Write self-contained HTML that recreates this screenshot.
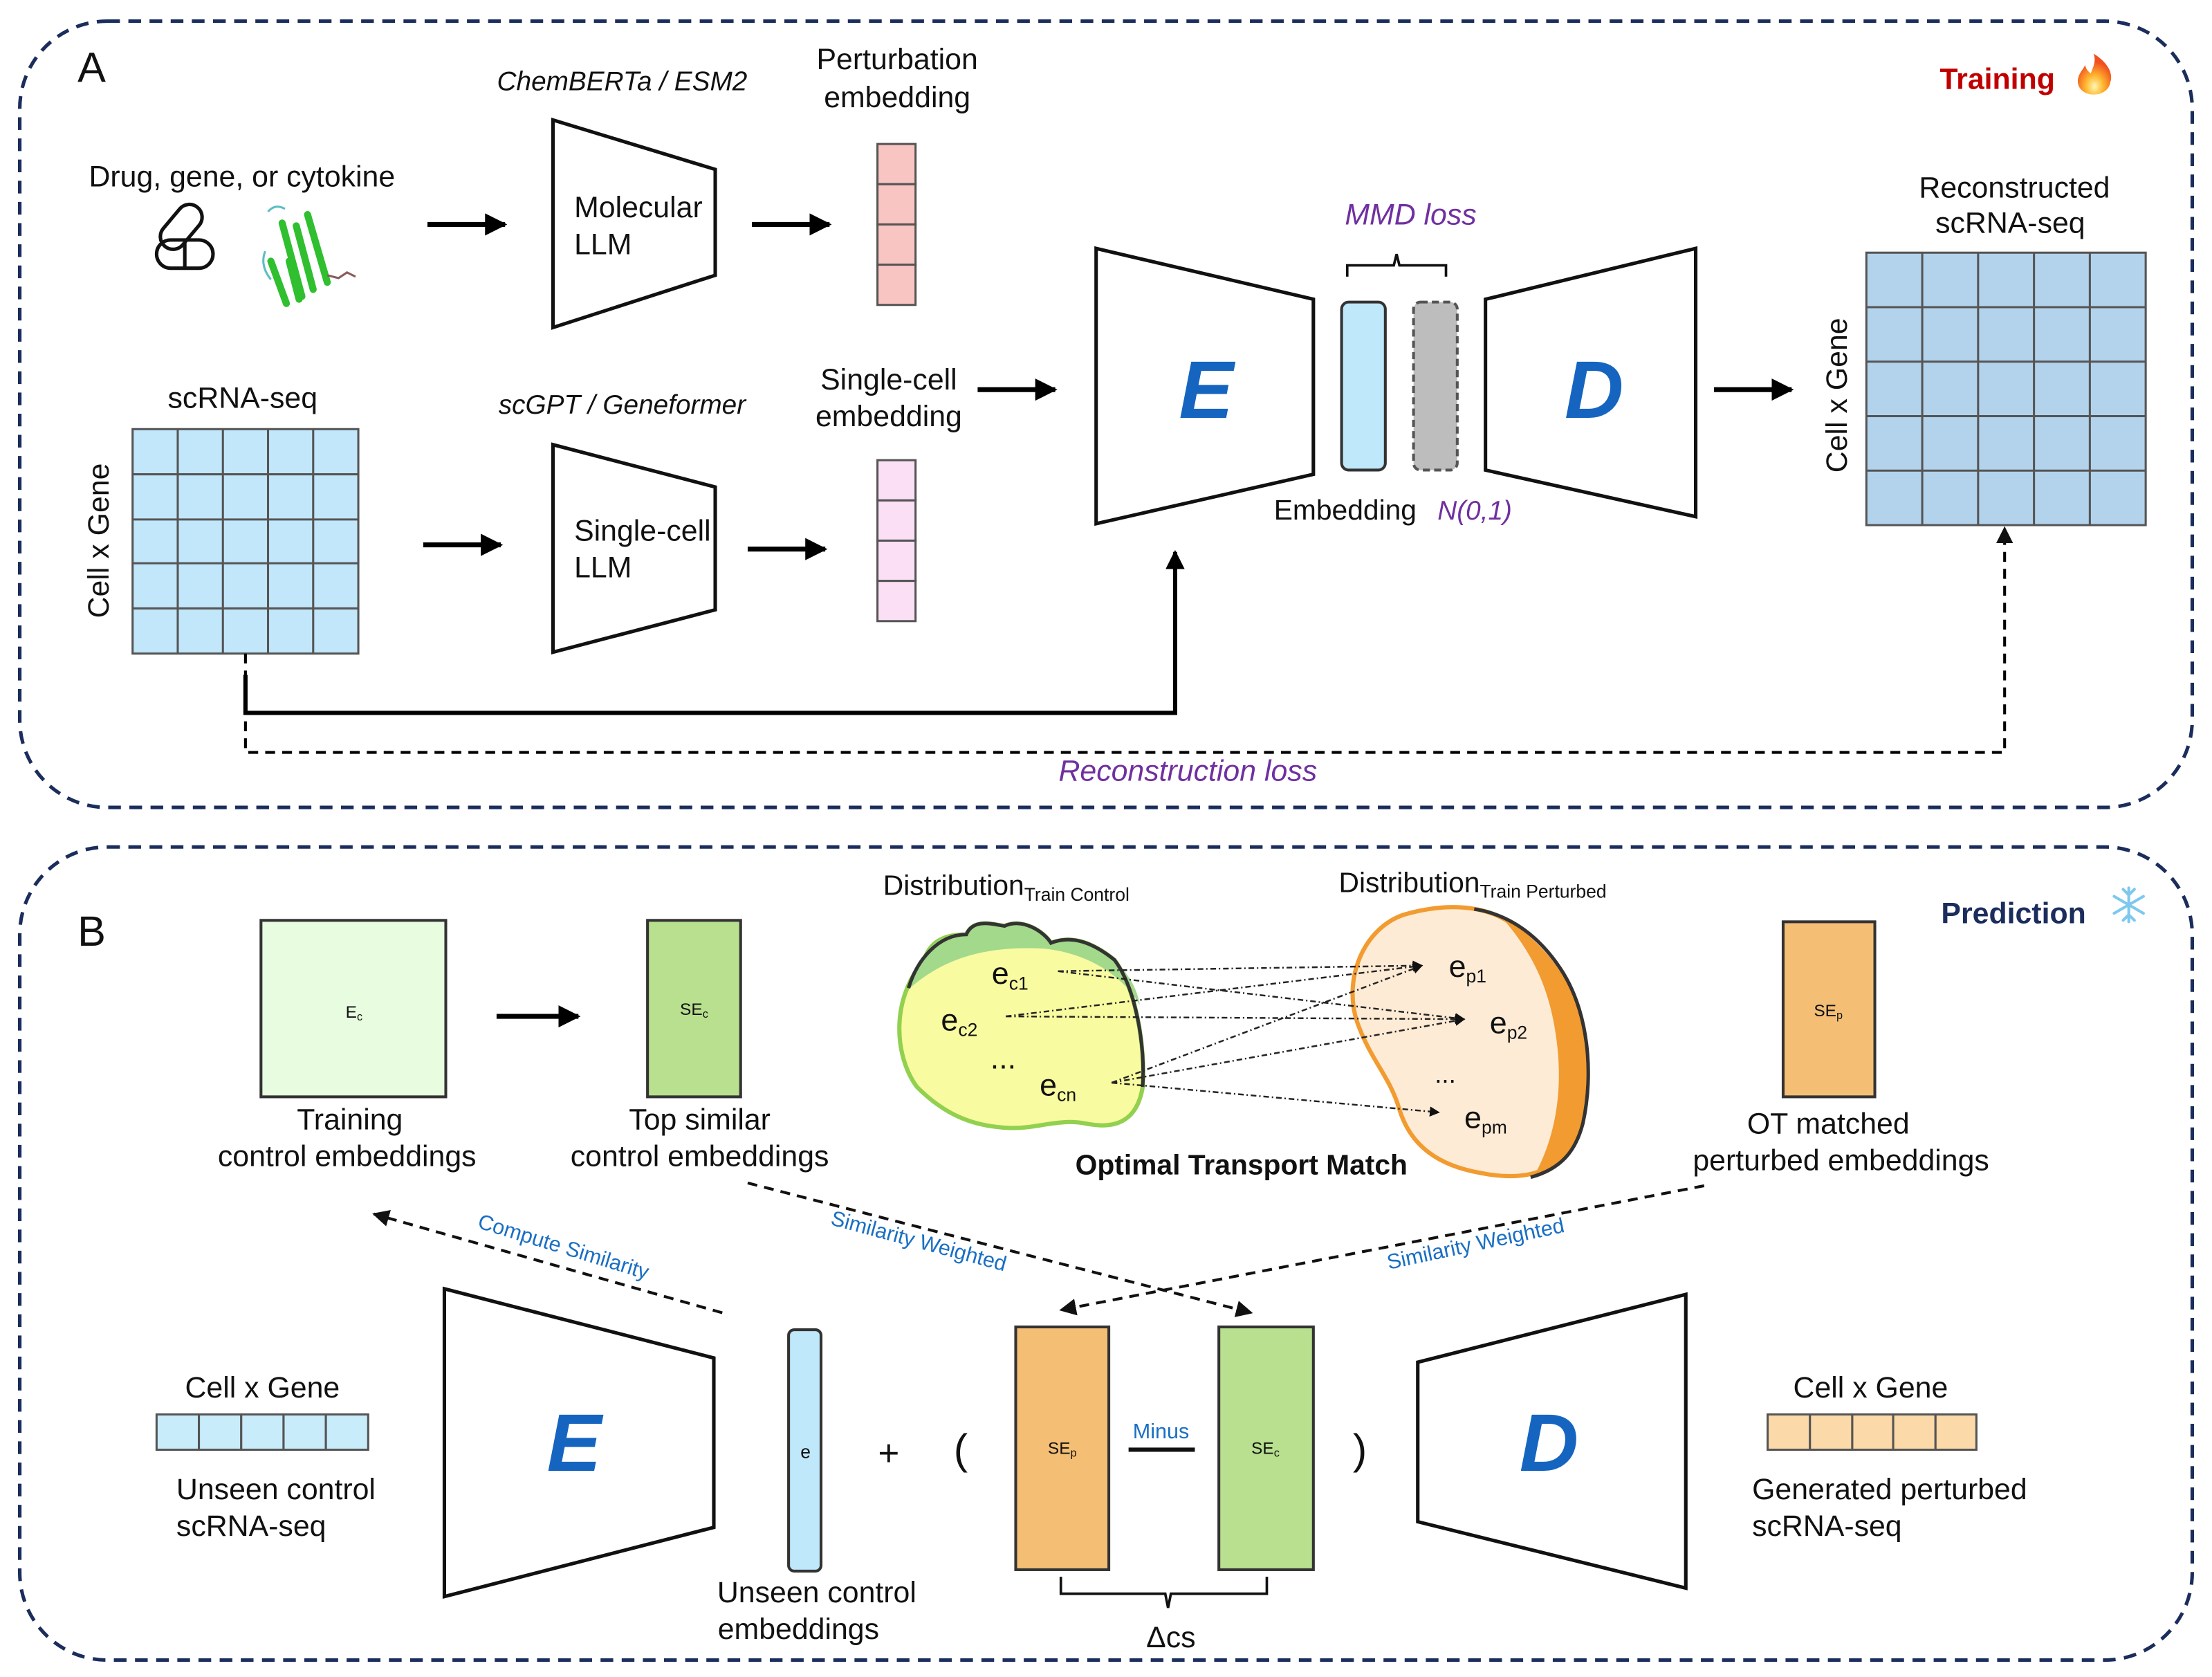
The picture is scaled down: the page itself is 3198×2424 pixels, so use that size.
<!DOCTYPE html>
<html><head><meta charset="utf-8"><style>
html,body{margin:0;padding:0;background:#fff;}
svg{display:block;}
text{font-family:"Liberation Sans",sans-serif;fill:#111;}
</style></head><body>
<svg width="3198" height="2424" viewBox="0 0 1568 1188" preserveAspectRatio="none" xmlns="http://www.w3.org/2000/svg">
<defs>
<marker id="ah" viewBox="0 0 10 10" refX="9" refY="5" markerWidth="4.5" markerHeight="4.5" orient="auto"><path d="M0,0L10,5L0,10z" fill="#000"/></marker>
<marker id="ah2" viewBox="0 0 10 10" refX="9" refY="5" markerWidth="6" markerHeight="6" orient="auto"><path d="M0,0L10,5L0,10z" fill="#111"/></marker>
<radialGradient id="fg" cx="0.5" cy="0.8" r="0.6"><stop offset="0" stop-color="#fff7b0"/><stop offset="0.45" stop-color="#ffb52e"/><stop offset="1" stop-color="#f0501e"/></radialGradient>
</defs>
<rect x="14" y="15" width="1540" height="557" rx="62" fill="none" stroke="#1b2d5c" stroke-width="2.5" stroke-dasharray="9,6"/>
<rect x="14" y="600" width="1540" height="576" rx="62" fill="none" stroke="#1b2d5c" stroke-width="2.5" stroke-dasharray="9,6"/>
<text x="55" y="58" font-size="30">A</text>
<text x="55" y="670" font-size="30">B</text>
<text x="1375" y="63" font-size="21" font-weight="bold" style="fill:#c00000">Training</text>
<path d="M1484,38 C1494,44 1498,52 1496,58 C1495,64 1490,67 1484,67 C1477,67 1472,62 1473,56 C1474,51 1477,49 1478,46 C1479,50 1481,51 1482,52 C1484,47 1486,43 1484,38Z" fill="url(#fg)"/>

<text x="63" y="132" font-size="21">Drug, gene, or cytokine</text>
<g fill="none" stroke="#111" stroke-width="2.5">
<rect x="111" y="170" width="40" height="20" rx="10"/>
<line x1="131" y1="170" x2="131" y2="190"/>
<rect x="112" y="151" width="36" height="18" rx="9" transform="rotate(-50 130 162)"/>
</g>
<g stroke="#2fbf2f" stroke-width="5" stroke-linecap="round">
<line x1="192" y1="185" x2="203" y2="215"/><line x1="200" y1="158" x2="214" y2="210"/>
<line x1="210" y1="160" x2="222" y2="205"/><line x1="218" y1="152" x2="232" y2="200"/>
<line x1="205" y1="185" x2="212" y2="212"/>
</g>
<path d="M232,195 l8,2 l6,-4 l6,3" stroke="#8a5a5a" fill="none" stroke-width="1.5"/>
<path d="M190,150 q5,-6 12,-2 M188,178 q-4,10 4,20" stroke="#5bbfc4" fill="none" stroke-width="1.5"/>
<line x1="303" y1="159" x2="358" y2="159" stroke="#000" stroke-width="3.5" marker-end="url(#ah)"/>
<text x="441" y="64" font-size="19" font-style="italic" text-anchor="middle">ChemBERTa / ESM2</text>
<polygon points="392,85 507,120 507,195 392,232" fill="#fff" stroke="#111" stroke-width="2.5"/>
<text x="407" y="154" font-size="21">Molecular</text><text x="407" y="180" font-size="21">LLM</text>
<line x1="533" y1="159" x2="588" y2="159" stroke="#000" stroke-width="3.5" marker-end="url(#ah)"/>
<text x="636" y="49" font-size="21" text-anchor="middle">Perturbation</text>
<text x="636" y="76" font-size="21" text-anchor="middle">embedding</text>
<g fill="#f9c5c2" stroke="#555" stroke-width="1.5"><rect x="622" y="102" width="27" height="28.5"/><rect x="622" y="130.5" width="27" height="28.5"/><rect x="622" y="159" width="27" height="28.5"/><rect x="622" y="187.5" width="27" height="28.5"/></g>

<text x="172" y="289" font-size="21" text-anchor="middle">scRNA-seq</text>
<rect x="94" y="304" width="160" height="159" fill="#c2e6fa" stroke="#555" stroke-width="1.5"/>
<g stroke="#555" stroke-width="1.5">
<line x1="126" y1="304" x2="126" y2="463"/><line x1="158" y1="304" x2="158" y2="463"/><line x1="190" y1="304" x2="190" y2="463"/><line x1="222" y1="304" x2="222" y2="463"/>
<line x1="94" y1="336" x2="254" y2="336"/><line x1="94" y1="368" x2="254" y2="368"/><line x1="94" y1="399" x2="254" y2="399"/><line x1="94" y1="431" x2="254" y2="431"/>
</g>
<text x="0" y="0" font-size="21" text-anchor="middle" transform="translate(77,383) rotate(-90)">Cell x Gene</text>
<text x="441" y="293" font-size="19" font-style="italic" text-anchor="middle">scGPT / Geneformer</text>
<polygon points="392,315 507,345 507,432 392,462" fill="#fff" stroke="#111" stroke-width="2.5"/>
<text x="407" y="383" font-size="21">Single-cell</text><text x="407" y="409" font-size="21">LLM</text>
<line x1="300" y1="386" x2="355" y2="386" stroke="#000" stroke-width="3.5" marker-end="url(#ah)"/>
<line x1="530" y1="389" x2="585" y2="389" stroke="#000" stroke-width="3.5" marker-end="url(#ah)"/>
<text x="630" y="276" font-size="21" text-anchor="middle">Single-cell</text>
<text x="630" y="302" font-size="21" text-anchor="middle">embedding</text>
<g fill="#fbe0f5" stroke="#555" stroke-width="1.5"><rect x="622" y="326" width="27" height="28.5"/><rect x="622" y="354.5" width="27" height="28.5"/><rect x="622" y="383" width="27" height="28.5"/><rect x="622" y="411.5" width="27" height="28.5"/></g>
<line x1="693" y1="276" x2="748" y2="276" stroke="#000" stroke-width="3.5" marker-end="url(#ah)"/>

<polygon points="777,176 931,212 931,336 777,371" fill="#fff" stroke="#111" stroke-width="2.5"/>
<text x="855" y="296" font-size="58" font-weight="bold" font-style="italic" text-anchor="middle" style="fill:#1565c0">E</text>
<rect x="951" y="214" width="31" height="119" rx="5" fill="#bfe8fa" stroke="#333" stroke-width="2"/>
<rect x="1002" y="214" width="31" height="119" rx="5" fill="#bdbdbd" stroke="#555" stroke-width="2" stroke-dasharray="5,3"/>
<path d="M955,196 V188 H988 L990,180 L992,188 H1025 V196" fill="none" stroke="#111" stroke-width="1.8"/>
<text x="1000" y="159" font-size="21" font-style="italic" text-anchor="middle" style="fill:#7030a0">MMD loss</text>
<text x="903" y="368" font-size="20">Embedding</text>
<text x="1019" y="368" font-size="19" font-style="italic" style="fill:#7030a0">N(0,1)</text>
<polygon points="1053,212 1202,176 1202,366 1053,333" fill="#fff" stroke="#111" stroke-width="2.5"/>
<text x="1130" y="296" font-size="58" font-weight="bold" font-style="italic" text-anchor="middle" style="fill:#1565c0">D</text>
<line x1="1215" y1="276" x2="1270" y2="276" stroke="#000" stroke-width="3.5" marker-end="url(#ah)"/>
<text x="1428" y="140" font-size="21" text-anchor="middle">Reconstructed</text>
<text x="1425" y="165" font-size="21" text-anchor="middle">scRNA-seq</text>
<rect x="1323" y="179" width="198" height="193" fill="#b3d3ec" stroke="#555" stroke-width="1.5"/>
<g stroke="#555" stroke-width="1.5">
<line x1="1362.6" y1="179" x2="1362.6" y2="372"/><line x1="1402.2" y1="179" x2="1402.2" y2="372"/><line x1="1441.8" y1="179" x2="1441.8" y2="372"/><line x1="1481.4" y1="179" x2="1481.4" y2="372"/>
<line x1="1323" y1="217.6" x2="1521" y2="217.6"/><line x1="1323" y1="256.2" x2="1521" y2="256.2"/><line x1="1323" y1="294.8" x2="1521" y2="294.8"/><line x1="1323" y1="333.4" x2="1521" y2="333.4"/>
</g>
<text x="0" y="0" font-size="21" text-anchor="middle" transform="translate(1309,280) rotate(-90)">Cell x Gene</text>

<polyline points="174,478 174,505 833,505 833,391" fill="none" stroke="#000" stroke-width="3" marker-end="url(#ah)"/>
<polyline points="174,463 174,533 1421,533 1421,374" fill="none" stroke="#000" stroke-width="2" stroke-dasharray="7,5" marker-end="url(#ah2)"/>
<text x="842" y="553" font-size="21" font-style="italic" text-anchor="middle" style="fill:#7030a0">Reconstruction loss</text>

<text x="1376" y="654" font-size="21" font-weight="bold" style="fill:#1b2d5c">Prediction</text>
<g stroke="#7ec8f0" stroke-width="2" stroke-linecap="round" fill="none">
<line x1="1509" y1="629" x2="1509" y2="653"/><line x1="1498.6" y1="635" x2="1519.4" y2="647"/><line x1="1498.6" y1="647" x2="1519.4" y2="635"/>
<path d="M1505,630 L1509,634 L1513,630 M1505,652 L1509,648 L1513,652"/>
</g>

<rect x="185" y="652" width="131" height="125" fill="#e8fce0" stroke="#333" stroke-width="2"/>
<text x="251" y="721" font-size="12" text-anchor="middle">E<tspan font-size="8" dy="2">c</tspan></text>
<text x="248" y="800" font-size="21" text-anchor="middle">Training</text>
<text x="246" y="826" font-size="21" text-anchor="middle">control embeddings</text>
<line x1="352" y1="720" x2="410" y2="720" stroke="#000" stroke-width="3.5" marker-end="url(#ah)"/>
<rect x="459" y="652" width="66" height="125" fill="#b8e08f" stroke="#333" stroke-width="2"/>
<text x="492" y="719" font-size="12" text-anchor="middle">SE<tspan font-size="8" dy="2">c</tspan></text>
<text x="496" y="800" font-size="21" text-anchor="middle">Top similar</text>
<text x="496" y="826" font-size="21" text-anchor="middle">control embeddings</text>

<text x="626" y="634" font-size="20">Distribution<tspan font-size="13" dy="4">Train Control</tspan></text>
<text x="949" y="632" font-size="20">Distribution<tspan font-size="13" dy="4">Train Perturbed</tspan></text>
<path d="M655,680 C660,665 672,662 685,662 C690,650 705,655 712,656 C725,650 740,660 745,668 C760,662 775,668 790,680 C805,700 812,740 810,770 C806,795 790,800 770,796 C750,792 735,800 715,799 C690,798 670,790 650,770 C635,750 630,710 655,680Z" fill="#f8fba0" stroke="#92d050" stroke-width="3"/>
<path d="M655,680 C660,665 672,662 685,662 C690,650 705,655 712,656 C725,650 740,660 745,668 C760,662 775,668 790,680 C800,690 806,700 808,712 C795,690 770,675 740,672 C700,670 670,678 645,700 C647,692 650,686 655,680Z" fill="#a2d98a"/>
<path d="M644,700 C650,680 665,662 685,662 C690,650 705,655 712,656 C725,650 740,660 745,668 C760,662 775,668 790,680 C805,700 812,740 810,770" fill="none" stroke="#333" stroke-width="2.5"/>
<path d="M995,648 C1030,638 1060,642 1078,660 C1098,676 1112,696 1120,722 C1127,752 1126,792 1112,816 C1097,833 1075,836 1050,831 C1020,826 1000,812 992,786 C985,762 972,752 962,724 C952,694 966,658 995,648Z" fill="#fdebd5" stroke="#f29b30" stroke-width="3"/>
<path d="M1078,660 C1098,676 1112,696 1120,722 C1127,752 1126,792 1112,816 C1104,826 1096,830 1088,832 C1100,810 1108,780 1104,742 C1100,704 1088,678 1068,654 C1072,655 1075,657 1078,660Z" fill="#f29b30"/>
<path d="M1045,644 C1072,648 1092,665 1106,686 C1126,716 1130,760 1122,796 C1117,815 1107,828 1085,834" fill="none" stroke="#333" stroke-width="2.5"/>
<g font-size="22">
<text x="703" y="697">e<tspan font-size="13" dy="4">c1</tspan></text>
<text x="667" y="730">e<tspan font-size="13" dy="4">c2</tspan></text>
<text x="702" y="757">...</text>
<text x="737" y="776">e<tspan font-size="13" dy="4">cn</tspan></text>
<text x="1027" y="692">e<tspan font-size="13" dy="4">p1</tspan></text>
<text x="1056" y="732">e<tspan font-size="13" dy="4">p2</tspan></text>
<text x="1017" y="767" font-size="18">...</text>
<text x="1038" y="799">e<tspan font-size="13" dy="4">pm</tspan></text>
</g>
<g stroke="#222" stroke-width="1.2" stroke-dasharray="4,2,1,2" fill="none">
<line x1="750" y1="688" x2="1008" y2="684" marker-end="url(#ah2)"/>
<line x1="750" y1="688" x2="1038" y2="722" marker-end="url(#ah2)"/>
<line x1="713" y1="720" x2="1008" y2="684" marker-end="url(#ah2)"/>
<line x1="713" y1="720" x2="1038" y2="722" marker-end="url(#ah2)"/>
<line x1="788" y1="767" x2="1008" y2="684" marker-end="url(#ah2)"/>
<line x1="788" y1="767" x2="1038" y2="722" marker-end="url(#ah2)"/>
<line x1="788" y1="767" x2="1020" y2="788" marker-end="url(#ah2)"/>
</g>
<text x="880" y="832" font-size="20" font-weight="bold" text-anchor="middle">Optimal Transport Match</text>
<rect x="1264" y="653" width="65" height="124" fill="#f4bf74" stroke="#333" stroke-width="2"/>
<text x="1296" y="720" font-size="12" text-anchor="middle">SE<tspan font-size="8" dy="2">p</tspan></text>
<text x="1296" y="803" font-size="21" text-anchor="middle">OT matched</text>
<text x="1305" y="829" font-size="21" text-anchor="middle">perturbed embeddings</text>

<g stroke="#111" stroke-width="2" stroke-dasharray="7,5" fill="none">
<line x1="512" y1="930" x2="265" y2="860" marker-end="url(#ah2)"/>
<line x1="530" y1="838" x2="887" y2="930" marker-end="url(#ah2)"/>
<line x1="1208" y1="840" x2="752" y2="928" marker-end="url(#ah2)"/>
</g>
<text x="0" y="0" font-size="15" text-anchor="middle" style="fill:#1a6fc4" transform="translate(398,888) rotate(17)">Compute Similarity</text>
<text x="0" y="0" font-size="15" text-anchor="middle" style="fill:#1a6fc4" transform="translate(650,884) rotate(15)">Similarity Weighted</text>
<text x="0" y="0" font-size="15" text-anchor="middle" style="fill:#1a6fc4" transform="translate(1047,886) rotate(-12)">Similarity Weighted</text>

<polygon points="315,913 506,962 506,1082 315,1131" fill="#fff" stroke="#111" stroke-width="2.5"/>
<text x="407" y="1042" font-size="58" font-weight="bold" font-style="italic" text-anchor="middle" style="fill:#1565c0">E</text>
<text x="186" y="990" font-size="21" text-anchor="middle">Cell x Gene</text>
<g fill="#c9ecfa" stroke="#555" stroke-width="1.5">
<rect x="111" y="1002" width="30" height="25"/><rect x="141" y="1002" width="30" height="25"/><rect x="171" y="1002" width="30" height="25"/><rect x="201" y="1002" width="30" height="25"/><rect x="231" y="1002" width="30" height="25"/></g>
<text x="125" y="1062" font-size="21">Unseen control</text>
<text x="125" y="1088" font-size="21">scRNA-seq</text>
<rect x="559" y="942" width="23" height="171" rx="4" fill="#bfe8fa" stroke="#333" stroke-width="2"/>
<text x="571" y="1033" font-size="13" text-anchor="middle">e</text>
<text x="579" y="1135" font-size="21" text-anchor="middle">Unseen control</text>
<text x="566" y="1161" font-size="21" text-anchor="middle">embeddings</text>
<text x="630" y="1038" font-size="26" text-anchor="middle">+</text>
<text x="681" y="1037" font-size="30" text-anchor="middle">(</text>
<text x="964" y="1037" font-size="30" text-anchor="middle">)</text>
<rect x="720" y="940" width="66" height="172" fill="#f4bf74" stroke="#333" stroke-width="2"/>
<text x="753" y="1030" font-size="12" text-anchor="middle">SE<tspan font-size="8" dy="2">p</tspan></text>
<text x="823" y="1019" font-size="15" text-anchor="middle" style="fill:#1a6fc4">Minus</text>
<line x1="800" y1="1027" x2="847" y2="1027" stroke="#111" stroke-width="3"/>
<rect x="864" y="940" width="67" height="172" fill="#b8e08f" stroke="#333" stroke-width="2"/>
<text x="897" y="1030" font-size="12" text-anchor="middle">SE<tspan font-size="8" dy="2">c</tspan></text>
<path d="M752,1117 V1129 H826 L828,1139 L830,1129 H898 V1117" fill="none" stroke="#111" stroke-width="1.8"/>
<text x="830" y="1167" font-size="21" text-anchor="middle">Δcs</text>
<polygon points="1005,965 1195,917 1195,1125 1005,1078" fill="#fff" stroke="#111" stroke-width="2.5"/>
<text x="1098" y="1042" font-size="58" font-weight="bold" font-style="italic" text-anchor="middle" style="fill:#1565c0">D</text>
<text x="1326" y="990" font-size="21" text-anchor="middle">Cell x Gene</text>
<g fill="#fbd9a8" stroke="#555" stroke-width="1.5">
<rect x="1253" y="1002" width="30" height="25"/><rect x="1283" y="1002" width="30" height="25"/><rect x="1313" y="1002" width="29" height="25"/><rect x="1342" y="1002" width="30" height="25"/><rect x="1372" y="1002" width="29" height="25"/></g>
<text x="1242" y="1062" font-size="21">Generated perturbed</text>
<text x="1242" y="1088" font-size="21">scRNA-seq</text>
</svg>
</body></html>
